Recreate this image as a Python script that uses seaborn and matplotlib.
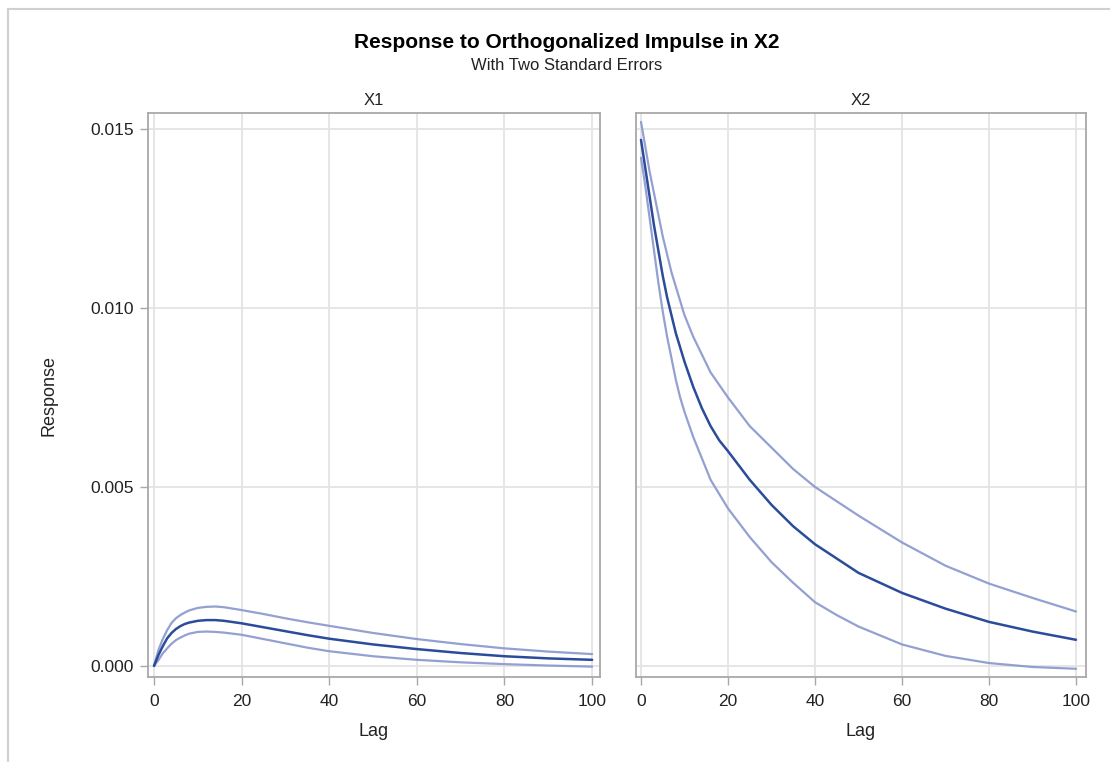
import numpy as np
import pandas as pd
import matplotlib
matplotlib.use("Agg")
import matplotlib.pyplot as plt
from matplotlib.lines import Line2D
import seaborn as sns

# values
lags_x1 = [0, 1, 2, 3, 4, 5, 6, 7, 8, 10, 12, 14, 16, 20, 25, 30, 35, 40, 50, 60, 70, 80, 90, 100]
x1_resp = [0, 0.0003, 0.00055, 0.00077, 0.00092, 0.00103, 0.00111, 0.00117, 0.00121, 0.00126,
           0.00128, 0.00128, 0.00126, 0.00119, 0.00108, 0.00097, 0.00086, 0.00076, 0.00060,
           0.00047, 0.00036, 0.00027, 0.00021, 0.00017]
x1_upper = [0, 0.00044, 0.00075, 0.0010, 0.0012, 0.00133, 0.00142, 0.00149, 0.00155, 0.00162,
            0.00165, 0.00166, 0.00164, 0.00156, 0.00145, 0.00133, 0.00122, 0.00112, 0.00092,
            0.00075, 0.00061, 0.00049, 0.0004, 0.00033]
x1_lower = [0, 0.00016, 0.00035, 0.00049, 0.00062, 0.00072, 0.00079, 0.00085, 0.0009, 0.00095,
            0.00096, 0.00095, 0.00093, 0.00087, 0.00075, 0.00063, 0.00051, 0.00041, 0.00027,
            0.00017, 0.0001, 0.00005, 0.00001, -0.00002]

lags_x2 = [0, 1, 2, 3, 4, 5, 6, 7, 8, 9, 10, 12, 14, 16, 18, 20, 25, 30, 35, 40, 45, 50,
           60, 70, 80, 90, 100]
x2_resp = [0.0147, 0.0139, 0.0131, 0.0123, 0.0116, 0.0109, 0.0103, 0.0098, 0.0093, 0.0089,
           0.0085, 0.0078, 0.0072, 0.0067, 0.0063, 0.0060, 0.0052, 0.0045, 0.0039, 0.0034,
           0.0030, 0.0026, 0.00204, 0.0016, 0.00123, 0.00096, 0.00073]
x2_upper = [0.0152, 0.0145, 0.0138, 0.0132, 0.0126, 0.0120, 0.0115, 0.0110, 0.0106, 0.0102,
            0.0098, 0.0092, 0.0087, 0.0082, 0.00785, 0.0075, 0.0067, 0.0061, 0.0055, 0.0050,
            0.0046, 0.0042, 0.00345, 0.0028, 0.0023, 0.0019, 0.00152]
x2_lower = [0.0142, 0.0134, 0.0125, 0.0116, 0.0107, 0.0099, 0.0092, 0.0086, 0.0080, 0.0075,
            0.0071, 0.0064, 0.0058, 0.0052, 0.0048, 0.0044, 0.0036, 0.0029, 0.00232, 0.00178,
            0.00142, 0.0011, 0.0006, 0.00028, 0.00008, -0.00003, -0.00008]

yticks = [0.000, 0.005, 0.010, 0.015]
xticks = [0, 20, 40, 60, 80, 100]

sns.set_style("white")
plt.rcParams['font.family'] = ['Liberation Sans', 'DejaVu Sans']

dark = "#2B4C9B"
light = "#8896CC"
grid_c = "#E4E4E4"
frame_c = "#A8A8A8"
text_c = "#222222"

fig = plt.figure(figsize=(11.1, 7.62), dpi=100)
ax1 = fig.add_axes([148/1110, 1-677/762, 452/1110, 564/762])
ax2 = fig.add_axes([636/1110, 1-677/762, 450/1110, 564/762])

panels = [
    (ax1, "X1", lags_x1, x1_resp, x1_upper, x1_lower, (-1.37, 101.8)),
    (ax2, "X2", lags_x2, x2_resp, x2_upper, x2_lower, (-1.15, 102.3)),
]

for ax, name, lag, resp, up, lo, xl in panels:
    df = pd.DataFrame({"Lag": lag, "Response": resp, "Upper": up, "Lower": lo})
    sns.lineplot(data=df, x="Lag", y="Upper", ax=ax, color=light, lw=1.6, alpha=0.9)
    sns.lineplot(data=df, x="Lag", y="Lower", ax=ax, color=light, lw=1.6, alpha=0.9)
    sns.lineplot(data=df, x="Lag", y="Response", ax=ax, color=dark, lw=1.8)
    ax.set_xlim(*xl)
    ax.set_ylim(-0.00031, 0.01545)
    ax.set_xticks(xticks)
    ax.set_yticks(yticks)
    ax.grid(True, color=grid_c, lw=1.3)
    ax.set_axisbelow(True)
    for s in ax.spines.values():
        s.set_color(frame_c)
        s.set_linewidth(1.3)
    ax.set_title(name, fontsize=12, color=text_c, pad=6)
    ax.set_xlabel("Lag", fontsize=13, color=text_c, labelpad=10)
    ax.tick_params(axis="x", length=6, width=1, color=frame_c, labelsize=12.5,
                   labelcolor=text_c, pad=6, direction="out", bottom=True)

ax1.tick_params(axis="y", length=6, width=1, color=frame_c, labelsize=12.5,
                labelcolor=text_c, pad=4, direction="out", left=True)
ax1.set_yticklabels([f"{v:.3f}" for v in yticks])
ax1.set_ylabel("Response", fontsize=13, color=text_c, labelpad=24)
ax2.set_ylabel("")
ax2.tick_params(axis="y", left=False, labelleft=False)

fig.text(0.5105, 1-42/762, "Response to Orthogonalized Impulse in X2", ha="center", va="center",
         fontsize=15, fontweight="bold", color="black")
fig.text(0.5105, 1-66/762, "With Two Standard Errors", ha="center", va="center",
         fontsize=12, color=text_c)

# outer graph border (top and left only visible)
fig.add_artist(Line2D([8/1110, 1.0], [1-9/762, 1-9/762], color="#D0D0D0", lw=1.5, transform=fig.transFigure))
fig.add_artist(Line2D([8/1110, 8/1110], [0.0, 1-9/762], color="#D0D0D0", lw=1.5, transform=fig.transFigure))

fig.savefig("out.png", dpi=100, facecolor="white")
